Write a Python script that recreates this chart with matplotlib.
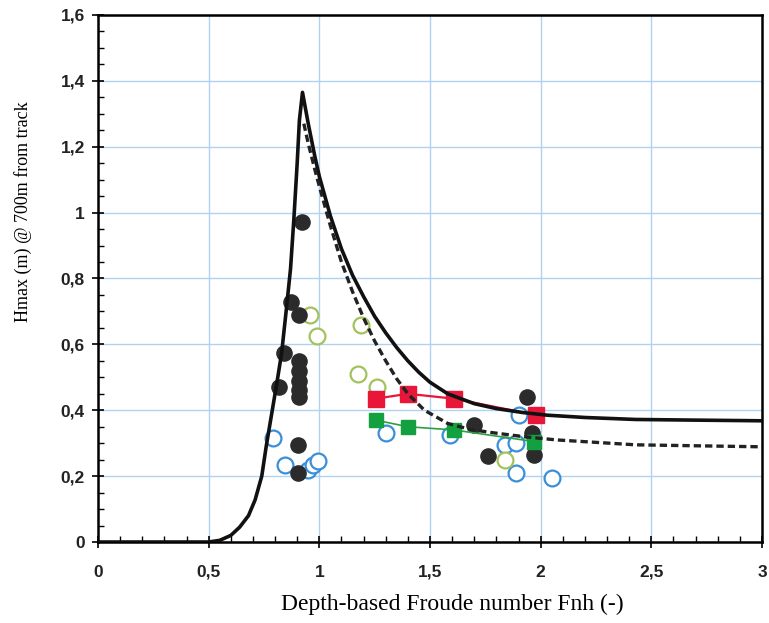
import matplotlib.pyplot as plt
from matplotlib.ticker import MultipleLocator

# theoretical curve (solid) and second prediction (dashed)
solid_x = [0.0, 0.5, 0.55, 0.6, 0.64, 0.68, 0.71, 0.74, 0.76, 0.785, 0.81, 0.83, 0.85,
           0.87, 0.885, 0.90, 0.91, 0.924, 0.95, 0.98, 1.00, 1.05, 1.10, 1.15, 1.20,
           1.25, 1.30, 1.35, 1.40, 1.45, 1.50, 1.58, 1.70, 1.80, 1.92, 2.03, 2.20,
           2.43, 2.70, 3.0]
solid_y = [0.0, 0.0, 0.005, 0.02, 0.045, 0.08, 0.128, 0.20, 0.29, 0.39, 0.49, 0.575, 0.70,
           0.83, 0.98, 1.15, 1.28, 1.365, 1.27, 1.17, 1.11, 0.99, 0.89, 0.81, 0.745,
           0.685, 0.635, 0.59, 0.55, 0.515, 0.485, 0.45, 0.42, 0.405, 0.393, 0.385, 0.378,
           0.372, 0.37, 0.368]

dash_x = [0.93, 0.95, 0.98, 1.00, 1.05, 1.10, 1.15, 1.20, 1.25, 1.30, 1.35, 1.40, 1.475,
          1.58, 1.68, 1.77, 1.92, 2.07, 2.43, 3.0]
dash_y = [1.27, 1.21, 1.13, 1.08, 0.96, 0.85, 0.76, 0.68, 0.61, 0.55, 0.495, 0.45, 0.40,
          0.36, 0.342, 0.333, 0.32, 0.31, 0.295, 0.289]

# measurements
black_x = [0.92, 0.87, 0.906, 0.84, 0.82, 0.91, 0.91, 0.91, 0.91, 0.91, 0.905, 0.905,
           1.70, 1.76, 1.94, 1.96, 1.97]
black_y = [0.97, 0.73, 0.69, 0.575, 0.47, 0.55, 0.52, 0.49, 0.46, 0.44, 0.295, 0.21,
           0.355, 0.26, 0.44, 0.33, 0.265]

green_open_x = [0.96, 0.99, 1.19, 1.175, 1.26, 1.84]
green_open_y = [0.69, 0.625, 0.66, 0.51, 0.47, 0.25]

blue_open_x = [0.79, 0.845, 0.95, 0.97, 0.995, 1.30, 1.59, 1.84, 1.89, 1.90, 1.89, 2.05]
blue_open_y = [0.315, 0.235, 0.22, 0.235, 0.245, 0.33, 0.325, 0.295, 0.30, 0.385, 0.21, 0.195]

red_x = [1.255, 1.40, 1.61, 1.98]
red_y = [0.435, 0.45, 0.435, 0.385]

green_sq_x = [1.255, 1.40, 1.61, 1.97]
green_sq_y = [0.37, 0.35, 0.34, 0.305]

xticks = [0, 0.5, 1, 1.5, 2, 2.5, 3]
xtick_labels = ['0', '0,5', '1', '1,5', '2', '2,5', '3']
yticks = [0, 0.2, 0.4, 0.6, 0.8, 1.0, 1.2, 1.4, 1.6]
ytick_labels = ['0', '0,2', '0,4', '0,6', '0,8', '1', '1,2', '1,4', '1,6']

fig = plt.figure(figsize=(7.69, 6.23), dpi=100)
ax = fig.add_axes([0.1274, 0.130, 0.8635, 0.846])

ax.set_xlim(0, 3)
ax.set_ylim(0, 1.6)
ax.grid(True, which='major', color='#b0d2f0', lw=1.0)
ax.set_axisbelow(True)

ax.scatter(blue_open_x, blue_open_y, s=130, facecolors='white', edgecolors='#3a8fd8',
           linewidths=1.6, zorder=3)
ax.scatter(green_open_x, green_open_y, s=130, facecolors='white', edgecolors='#a3c25e',
           linewidths=1.6, zorder=3)
ax.scatter(black_x, black_y, s=120, color='#2b2b2b', zorder=4)

ax.plot(red_x, red_y, color='#e8173a', lw=1.6, marker='s', ms=11, mfc='#e8173a',
        mec='#e8173a', zorder=5)
ax.plot(green_sq_x, green_sq_y, color='#2ea043', lw=1.2, marker='s', ms=10,
        mfc='#12a040', mec='#12a040', zorder=5)

ax.plot(solid_x, solid_y, color='#111111', lw=2.6, zorder=6)
ax.plot(dash_x, dash_y, color='#222222', lw=2.4, ls=(0, (2.2, 1.2)), zorder=6)

ax.set_xticks(xticks)
ax.set_xticklabels(xtick_labels)
ax.set_yticks(yticks)
ax.set_yticklabels(ytick_labels)
ax.xaxis.set_minor_locator(MultipleLocator(0.1))
ax.yaxis.set_minor_locator(MultipleLocator(0.05))
ax.tick_params(which='major', direction='inout', length=9, width=1.2, labelsize=12.5)
ax.tick_params(axis='x', which='major', pad=12)
ax.tick_params(axis='y', which='major', pad=5)
ax.tick_params(which='minor', direction='in', length=4, width=1.0)
for lab in ax.get_xticklabels() + ax.get_yticklabels():
    lab.set_fontfamily('Liberation Sans')
    lab.set_fontweight('bold')
    lab.set_color('#222222')
for sp in ax.spines.values():
    sp.set_linewidth(1.8)

ax.set_xlabel('Depth-based Froude number Fnh (-)', fontfamily='Liberation Serif',
              fontsize=17)
ax.set_ylabel('Hmax (m) @ 700m from track', fontfamily='Liberation Serif',
              fontsize=13)
ax.xaxis.set_label_coords(0.534, -0.098)
ax.yaxis.set_label_coords(-0.100, 0.626)

fig.savefig('out.png', dpi=100)
